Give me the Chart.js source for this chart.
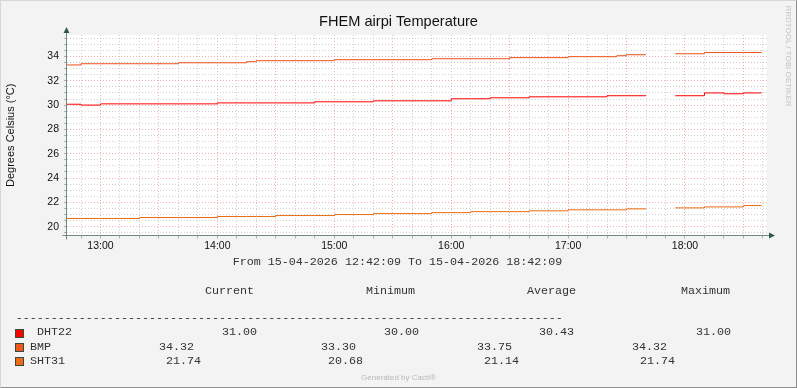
<!DOCTYPE html>
<html>
<head>
<meta charset="utf-8">
<script src="https://cdn.jsdelivr.net/npm/chart.js@4.4.1/dist/chart.umd.min.js"></script>
<style>
  html, body { margin: 0; padding: 0; background: #f3f3f3; }
  #wrap { position: relative; width: 797px; height: 388px; background: #f3f3f3; overflow: hidden; }
  #myChart { position: absolute; left: 0; top: 0; }
  #frame { position: absolute; left: 0; top: 0; width: 797px; height: 388px; box-sizing: border-box;
           border: 1px solid; border-color: #d6d6d6 #8e8e8e #8e8e8e #d6d6d6; pointer-events: none; }
  .t { position: absolute; white-space: pre; line-height: 12px; }
  .mono { font-family: "Liberation Mono", monospace; font-size: 11.7px; color: #333; }
  .small { font-family: "Liberation Sans", sans-serif; font-size: 8px; color: #b8b8b8; }
  .box { position: absolute; width: 9px; height: 9px; box-sizing: border-box; border: 1px solid #364a40; }
</style>
</head>
<body>
<div id="wrap">
  <canvas id="myChart" width="797" height="388"></canvas>
  <div id="overlay"></div>
  <div id="frame"></div>
</div>
<script>
// sample times, minutes after 12:00
var times = [42.8, 50, 60, 80, 100, 120, 135, 140, 150, 170, 180, 200, 230, 240, 250,
             260, 270, 280, 300, 320, 325, 330, 340, 347, 355, 370, 380, 390, 399.3];

var dht22 = [30.07, 30.00, 30.10, 30.10, 30.10, 30.18, 30.18, 30.18, 30.18, 30.27, 30.27, 30.35, 30.35, 30.52, 30.52,
             30.60, 30.60, 30.68, 30.68, 30.77, 30.77, 30.77, 30.77, null, 30.77, 31.00, 30.93, 31.00, 31.00];

var bmp = [33.30, 33.40, 33.40, 33.40, 33.48, 33.48, 33.57, 33.65, 33.65, 33.65, 33.73, 33.73, 33.81, 33.81, 33.81,
           33.81, 33.90, 33.90, 33.98, 33.98, 34.06, 34.14, 34.14, null, 34.22, 34.32, 34.32, 34.32, 34.32];

var sht31 = [20.68, 20.68, 20.68, 20.76, 20.76, 20.84, 20.84, 20.84, 20.92, 20.92, 21.00, 21.08, 21.16, 21.16, 21.24,
             21.24, 21.24, 21.31, 21.39, 21.39, 21.39, 21.47, 21.47, null, 21.55, 21.63, 21.63, 21.74, 21.74];

var seriesNames = ['DHT22', 'BMP', 'SHT31'];
var statsCurrent = [31.00, 34.32, 21.74];
var statsMinimum = [30.00, 33.30, 20.68];
var statsAverage = [30.43, 33.75, 21.14];
var statsMaximum = [31.00, 34.32, 21.74];

var xTickMinutes = [60, 120, 180, 240, 300, 360];
var xTickLabels = ['13:00', '14:00', '15:00', '16:00', '17:00', '18:00'];
var yTickLabels = [20, 22, 24, 26, 28, 30, 32, 34];

var colors = ['#ff0000', '#ee5019', '#ea6a10'];
var boxColors = ['#ff0000', '#f05a1a', '#ee6c16'];
var sans = 'Liberation Sans';

function points(values) {
    return times.map(function (t, i) { return {x: t, y: values[i]}; });
}

var rrdFrame = {
    id: 'rrdFrame',
    beforeDraw: function (chart) {
        var c = chart.ctx, a = chart.chartArea;
        c.save();
        c.fillStyle = '#ffffff';
        c.fillRect(a.left, a.top, a.right - a.left, a.bottom - a.top);
        c.restore();
    },
    afterDraw: function (chart) {
        var c = chart.ctx, a = chart.chartArea;
        var ax = Math.round(a.left) - 0.5, ay = Math.floor(a.bottom) + 0.5;
        c.save();
        c.strokeStyle = '#6f8a80';
        c.lineWidth = 1;
        c.beginPath();
        c.moveTo(ax, ay + 4); c.lineTo(ax, a.top - 4);
        c.moveTo(ax - 4, ay); c.lineTo(a.right + 3, ay);
        c.stroke();
        c.fillStyle = '#2f5a4c';
        c.beginPath();
        c.moveTo(ax, a.top - 8); c.lineTo(ax - 3, a.top - 2); c.lineTo(ax + 3, a.top - 2); c.closePath();
        c.moveTo(a.right + 8, ay); c.lineTo(a.right + 2, ay - 3); c.lineTo(a.right + 2, ay + 3); c.closePath();
        c.fill();
        c.restore();
    }
};

var minorGrid = 'rgba(170,170,170,0.55)';
var majorGrid = 'rgba(235,120,120,0.6)';

var ctx = document.getElementById('myChart');
var myChart = new Chart(ctx, {
    type: 'line',
    data: {
        datasets: [
            {label: seriesNames[0], data: points(dht22), borderColor: colors[0]},
            {label: seriesNames[1], data: points(bmp), borderColor: colors[1]},
            {label: seriesNames[2], data: points(sht31), borderColor: colors[2]}
        ]
    },
    options: {
        responsive: false,
        animation: false,
        events: [],
        datasets: {
            line: {borderWidth: 1, pointRadius: 0, stepped: 'before', spanGaps: false, fill: false}
        },
        layout: {padding: {left: 0, right: 0, top: 0, bottom: 132.5}},
        plugins: {
            legend: {display: false},
            tooltip: {enabled: false},
            title: {
                display: true,
                text: 'FHEM airpi Temperature',
                color: '#111',
                font: {family: sans, size: 14.6, weight: 'normal'},
                padding: {top: 13.7, bottom: 3.8}
            }
        },
        scales: {
            x: {
                type: 'linear',
                min: 42.8,
                max: 402.1,
                afterFit: function (s) { s.height = 20; },
                afterBuildTicks: function (s) {
                    var t = [];
                    for (var m = 50; m <= 400; m += 10) t.push({value: m});
                    s.ticks = t;
                },
                ticks: {
                    autoSkip: false, maxRotation: 0, padding: 1,
                    color: '#111', font: {family: sans, size: 10.5},
                    callback: function (v) {
                        var i = xTickMinutes.indexOf(v);
                        return i < 0 ? '' : xTickLabels[i];
                    }
                },
                grid: {
                    tickLength: 3,
                    color: function (c) { return c.tick && c.tick.value % 30 === 0 ? majorGrid : minorGrid; },
                    tickColor: '#b0b0b0'
                },
                border: {display: false, dash: [1, 2]}
            },
            y: {
                min: 19.28,
                max: 35.76,
                afterFit: function (s) { s.width = 67; },
                afterBuildTicks: function (s) {
                    var t = [];
                    for (var v = 19.5; v <= 35.5; v += 0.5) t.push({value: v});
                    s.ticks = t;
                },
                ticks: {
                    autoSkip: false,
                    padding: 5,
                    color: '#111', font: {family: sans, size: 10.5},
                    callback: function (v) {
                        return yTickLabels.indexOf(v) < 0 ? '' : String(v);
                    }
                },
                title: {
                    display: true,
                    text: 'Degrees Celsius (°C)',
                    color: '#111',
                    font: {family: sans, size: 11},
                    padding: {top: 4, bottom: 0}
                },
                grid: {
                    tickLength: 3,
                    color: function (c) { return c.tick && c.tick.value % 2 === 0 ? majorGrid : minorGrid; },
                    tickColor: '#b0b0b0'
                },
                border: {display: false, dash: [1, 2]}
            },
            side: {
                position: 'right',
                afterFit: function (s) { s.width = 30; },
                ticks: {display: false},
                grid: {display: false},
                border: {display: false}
            }
        }
    },
    plugins: [rrdFrame]
});

// text below the graph, Cacti style
var overlay = document.getElementById('overlay');
function put(text, x, y, cls, extra) {
    var d = document.createElement('div');
    d.className = 't ' + cls;
    d.textContent = text;
    d.style.left = x + 'px';
    d.style.top = (y - 6) + 'px';
    if (extra) extra(d);
    overlay.appendChild(d);
    return d;
}
function centered(d) { d.style.left = '0px'; d.style.width = '797px'; d.style.textAlign = 'center'; }

put('From 15-04-2026 12:42:09 To 15-04-2026 18:42:09', 0, 262.3, 'mono', function (d) {
    d.style.left = '-1px'; d.style.width = '797px'; d.style.textAlign = 'center';
});

var headers = ['Current', 'Minimum', 'Average', 'Maximum'];
var headerX = [205, 366, 527, 681];
headers.forEach(function (h, i) { put(h, headerX[i], 290.7, 'mono'); });

put(new Array(79).join('-'), 15.7, 318.3, 'mono');

var rowY = [332.3, 346.7, 360.7];
var labelX = [37, 30, 30];
var valueX = [[222, 384, 539, 696], [159, 321, 477, 632], [166, 328, 484, 640]];
seriesNames.forEach(function (name, i) {
    var b = document.createElement('div');
    b.className = 'box';
    b.style.left = '15px';
    b.style.top = (rowY[i] - 3.5) + 'px';
    b.style.background = boxColors[i];
    overlay.appendChild(b);
    put(name, labelX[i], rowY[i], 'mono');
    [statsCurrent, statsMinimum, statsAverage, statsMaximum].forEach(function (arr, k) {
        put(arr[i].toFixed(2), valueX[i][k], rowY[i], 'mono');
    });
});

put('Generated by Cacti®', 0, 377.5, 'small', centered);

put('RRDTOOL / TOBI OETIKER', 787.7, 62, 'small', function (d) {
    d.style.color = '#c4c4c4';
    d.style.transform = 'translate(-50%, -50%) rotate(90deg)';
});
</script>
</body>
</html>
